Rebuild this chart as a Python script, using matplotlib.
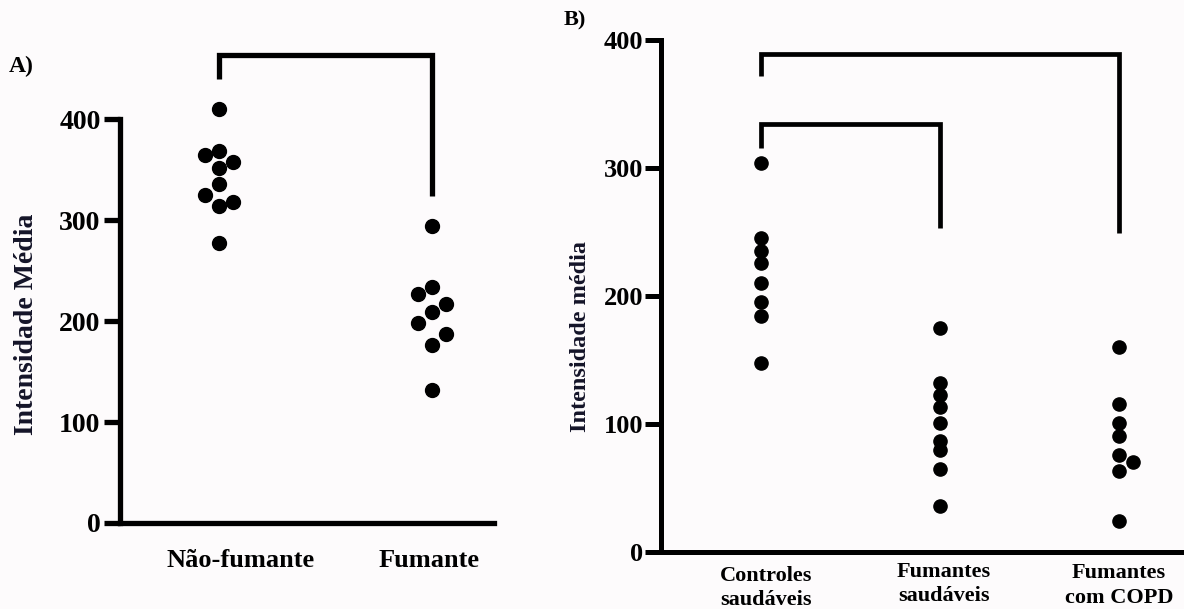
import matplotlib.pyplot as plt

# --- data ---
a_groups = ['Não-fumante', 'Fumante']
a_nao_fumante = [410, 368, 364, 358, 352, 336, 325, 318, 314, 277]
a_fumante = [294, 234, 227, 217, 209, 198, 187, 176, 132]
a_ticks = [0, 100, 200, 300, 400]

b_groups = ['Controles\nsaudáveis', 'Fumantes\nsaudáveis', 'Fumantes\ncom COPD']
b_controles = [304, 245, 235, 226, 210, 195, 184, 148]
b_fum_saud = [175, 132, 123, 113, 101, 87, 80, 65, 36]
b_fum_copd = [160, 116, 101, 91, 76, 70, 63, 24]
b_ticks = [0, 100, 200, 300, 400]

# horizontal spread of the dots (swarm layout, -1 left / 0 centre / +1 right)
a_nf_side = [0, 0, -1, 1, 0, 0, -1, 1, 0, 0]
a_f_side = [0, 0, -1, 1, 0, -1, 1, 0, 0]
b_copd_side = [0, 0, 0, 0, 0, 1, 0, 0]

W, H = 1184, 609
BG = '#fdfbfc'
plt.rcParams['font.family'] = ['Liberation Serif', 'DejaVu Serif']
plt.rcParams['font.weight'] = 'bold'

fig = plt.figure(figsize=(W / 100, H / 100), dpi=100, facecolor=BG)


def style_axes(ax, lw):
    ax.set_facecolor(BG)
    for s in ['top', 'right']:
        ax.spines[s].set_visible(False)
    ax.spines['left'].set_linewidth(lw)
    ax.spines['bottom'].set_linewidth(lw)
    ax.spines['left'].set_bounds(0, 400)
    ax.spines['left'].set_capstyle('projecting')
    ax.set_xticks([])
    ax.tick_params(axis='y', length=11.5, width=lw, pad=2.5, labelsize=20)
    for lab in ax.get_yticklabels():
        lab.set_fontweight('bold')


def bracket(ax, x0, x1, top, left_bottom, right_bottom, lw):
    ax.plot([x0, x0, x1, x1], [left_bottom, top, top, right_bottom],
            color='black', lw=lw, clip_on=False, solid_joinstyle='miter',
            solid_capstyle='butt')


# ---------------- panel A ----------------
axA = fig.add_axes([120 / W, (H - 523) / H, (494 - 120) / W, 523 / H])
axA.set_xlim(0.535, 2.29)
axA.set_ylim(0, 518)
axA.set_yticks(a_ticks)
axA.set_yticklabels([str(t) for t in a_ticks])
style_axes(axA, 3.8)

dx = 0.066
axA.plot([1 + s * dx for s in a_nf_side], a_nao_fumante, 'o', color='black', ms=10, clip_on=False)
axA.plot([2 + s * dx for s in a_f_side], a_fumante, 'o', color='black', ms=10, clip_on=False)
bracket(axA, 1, 2, 464, 440, 324, 3.8)

for x, lab, off in zip([1, 2], a_groups, [0.1, -0.015]):
    axA.annotate(lab, xy=(x + off, 0), xycoords=('data', 'axes fraction'),
                 xytext=(0, -27), textcoords='offset points',
                 ha='center', va='center', fontsize=19, fontweight='bold')

fig.text(27 / W, 1 - 324 / H, 'Intensidade Média', rotation=90, ha='center', va='center',
         fontsize=20, fontweight='bold', color='#141428')
fig.text(9 / W, 1 - 66 / H, 'A)', ha='left', va='center', fontsize=17, fontweight='bold')

# ---------------- panel B ----------------
axB = fig.add_axes([661 / W, (H - 552) / H, (W - 661) / W, 552 / H])
axB.set_xlim(0.441, 3.363)
axB.set_ylim(0, 431.25)
axB.set_yticks(b_ticks)
axB.set_yticklabels([str(t) for t in b_ticks])
style_axes(axB, 3.6)
axB.tick_params(axis='y', labelsize=19, pad=1.5)

axB.plot([1] * len(b_controles), b_controles, 'o', color='black', ms=9.5, clip_on=False)
axB.plot([2] * len(b_fum_saud), b_fum_saud, 'o', color='black', ms=9.5, clip_on=False)
axB.plot([3 + s * 0.08 for s in b_copd_side], b_fum_copd, 'o', color='black', ms=9.5, clip_on=False)
bracket(axB, 1, 3, 389, 372, 249, 3.4)
bracket(axB, 1, 2, 334, 316, 253, 3.4)

for x, lab, off, dy in zip([1, 2, 3], b_groups, [0.03, 0.02, 0.0], [-10, -7, -8]):
    axB.annotate(lab, xy=(x + off, 0), xycoords=('data', 'axes fraction'),
                 xytext=(0, dy), textcoords='offset points',
                 ha='center', va='top', fontsize=16, fontweight='bold',
                 linespacing=1.3)

fig.text(581 / W, 1 - 337 / H, 'Intensidade média', rotation=90, ha='center', va='center',
         fontsize=17.5, fontweight='bold', color='#141428')
fig.text(564 / W, 1 - 20 / H, 'B)', ha='left', va='center', fontsize=16, fontweight='bold')

fig.savefig('out.png', dpi=100, facecolor=BG)
